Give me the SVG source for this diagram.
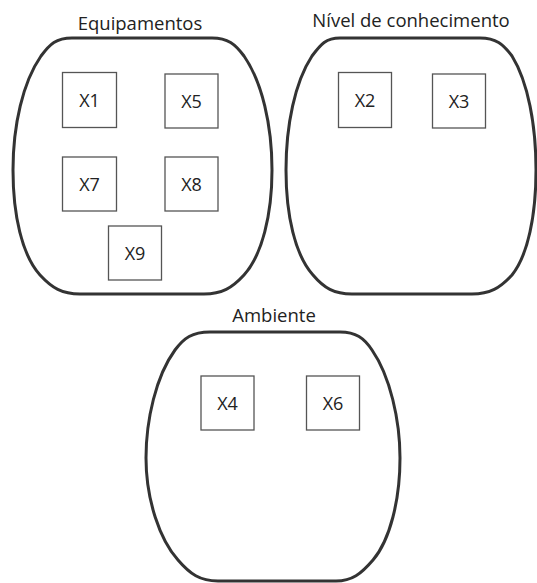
<svg xmlns="http://www.w3.org/2000/svg" width="537" height="583" viewBox="0 0 537 583">
<style>
.blob{fill:#fff;stroke:#333;stroke-width:3}
.box{fill:#fff;stroke:#555;stroke-width:1.3}
.lbl{font-family:"Open Sans","Liberation Sans",sans-serif;font-size:18px;fill:#222;text-anchor:middle}
.ttl{font-family:"Open Sans","Liberation Sans",sans-serif;font-size:18.5px;fill:#222;text-anchor:middle}
</style>
<rect width="537" height="583" fill="#fff"/>
<g id="equipamentos">
<text class="ttl" x="140" y="30">Equipamentos</text>
<path class="blob" d="M72,38 H212 C228,38 235,44 244,56 C262,82 272,125 272,170 C272,215 262,255 244,275 C232,288 222,294 204,294 H80 C62,294 52,288 40,275 C22,255 13,215 13,170 C13,125 23,82 41,56 C50,44 56,38 72,38 Z"/>
</g>
<g id="nivel">
<text class="ttl" x="411" y="27">Nível de conhecimento</text>
<path class="blob" d="M340,38 H480 C496,38 503,44 512,56 C528,82 536,125 536,170 C536,215 528,255 512,275 C500,288 490,294 472,294 H352 C334,294 324,288 313,275 C295,255 286,215 286,170 C286,125 295,82 312,56 C321,44 326,38 340,38 Z"/>
</g>
<g id="ambiente">
<text class="ttl" x="274" y="322">Ambiente</text>
<path class="blob" d="M210,332 H340 C356,332 364,338 372,350 C390,376 400,420 400,458 C400,500 390,540 373,560 C361,574 352,581 336,581 H218 C200,581 190,574 178,560 C160,540 146,500 146,458 C146,420 156,376 175,350 C184,338 192,332 210,332 Z"/>
</g>
<g id="X1"><rect class="box" x="62.5" y="72.5" width="54" height="55"/><text class="lbl" x="89.5" y="106.5">X1</text></g>
<g id="X5"><rect class="box" x="165" y="74" width="53" height="54"/><text class="lbl" x="191.5" y="107.5">X5</text></g>
<g id="X7"><rect class="box" x="62.5" y="157" width="54" height="54"/><text class="lbl" x="89.5" y="190.5">X7</text></g>
<g id="X8"><rect class="box" x="165" y="157" width="53" height="54"/><text class="lbl" x="191.5" y="190.5">X8</text></g>
<g id="X9"><rect class="box" x="108.5" y="226" width="53" height="54"/><text class="lbl" x="135" y="259.5">X9</text></g>
<g id="X2"><rect class="box" x="338.5" y="72.5" width="53" height="55"/><text class="lbl" x="365" y="106.5">X2</text></g>
<g id="X3"><rect class="box" x="432.5" y="74" width="53" height="54"/><text class="lbl" x="459" y="107.5">X3</text></g>
<g id="X4"><rect class="box" x="201" y="376" width="53" height="54"/><text class="lbl" x="227.5" y="409.5">X4</text></g>
<g id="X6"><rect class="box" x="306.5" y="376" width="53" height="54"/><text class="lbl" x="333" y="409.5">X6</text></g>
<g id="connectors"></g>
</svg>
